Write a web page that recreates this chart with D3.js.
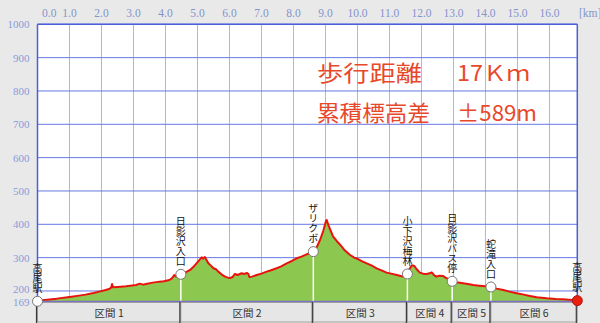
<!DOCTYPE html>
<html><head><meta charset="utf-8">
<script src="https://cdn.jsdelivr.net/npm/d3@7/dist/d3.min.js"></script>
<style>
html,body{margin:0;padding:0;background:#e9e9e9;}
svg{display:block;}
</style></head>
<body>
<svg id="c" width="600" height="323"></svg>
<script>
// ---- data ----
const distKm = [0,0.15,0.30,0.60,1.00,1.30,1.50,1.75,1.93,2.10,2.24,2.30,2.33,2.36,2.50,2.77,2.90,3.08,3.20,3.30,3.39,3.60,3.81,3.95,4.12,4.20,4.28,4.33,4.40,4.48,4.60,4.77,4.90,4.97,5.05,5.13,5.18,5.23,5.30,5.34,5.42,5.50,5.58,5.65,5.75,5.86,5.95,6.02,6.10,6.17,6.25,6.38,6.45,6.55,6.59,6.62,6.70,6.85,7.00,7.16,7.30,7.47,7.60,7.79,7.95,8.10,8.25,8.41,8.55,8.62,8.72,8.83,8.93,9.02,9.04,9.10,9.24,9.35,9.51,9.60,9.77,9.90,10.03,10.15,10.29,10.45,10.60,10.75,10.91,11.05,11.23,11.35,11.43,11.50,11.56,11.62,11.70,11.78,11.85,11.95,12.05,12.16,12.25,12.32,12.40,12.47,12.55,12.68,12.75,12.89,12.96,13.10,13.30,13.45,13.62,13.80,14.00,14.17,14.35,14.56,14.75,14.98,15.20,15.39,15.60,15.91,16.20,16.43,16.60,16.74,16.87];
const elevM  = [169,172,174,177,182,186,189,194,198,202,206,210,221,211,212,214,216,218,222,219,221,225,228,229,233,238,248,243,246,250,254,263,275,283,292,301,297,302,290,283,276,268,265,258,250,243,240,239,242,251,248,253,251,254,251,242,243,248,252,258,262,268,273,283,290,298,303,310,314,318,330,353,380,411,413,395,363,350,333,322,308,300,295,289,283,276,268,262,255,252,248,245,243,246,251,265,277,275,265,255,252,251,253,256,247,243,246,245,240,233,229,226,223,221,218,216,214,212,207,203,198,193,189,185,181,178,176,175,174,173,171];

const markerNames = ["高尾駅","日影沢入口","ザリクボ","小下沢梅林","日影沢バス停","蛇滝入口","高尾駅"];
const markerKm    = [0, 4.48, 8.62, 11.56, 12.96, 14.17, 16.87];
const markerElev  = [169, 250, 318, 251, 229, 212, 171];

const sectionNames = ["区間 1","区間 2","区間 3","区間 4","区間 5","区間 6"];
const sectionBounds = [0, 4.48, 8.62, 11.56, 12.96, 14.17, 16.87];

const xTicks = [0,1,2,3,4,5,6,7,8,9,10,11,12,13,14,15,16];
const xTickLabels = ["0.0","1.0","2.0","3.0","4.0","5.0","6.0","7.0","8.0","9.0","10.0","11.0","12.0","13.0","14.0","15.0","16.0"];
const yTicks = [200,300,400,500,600,700,800,900,1000];
const yMin = 169, yMax = 1000, xMax = 16.87;

const info1 = ["歩行距離","17Ｋｍ"];
const info2 = ["累積標高差","±589m"];

// ---- layout ----
const L = 37.5, R = 577.3, T = 24.3, B = 301.3;
const svg = d3.select("#c");
const x = d3.scaleLinear().domain([0, xMax]).range([L, R]);
const y = d3.scaleLinear().domain([yMin, yMax]).range([B, T]);

svg.append("rect").attr("x",0).attr("y",0).attr("width",600).attr("height",323).attr("fill","#e9e9e9");
svg.append("rect").attr("x",L).attr("y",T).attr("width",R-L).attr("height",B-T).attr("fill","#ffffff");

// vertical grid
svg.append("g").selectAll("line").data(xTicks.slice(1)).join("line")
  .attr("x1",d=>x(d)).attr("x2",d=>x(d)).attr("y1",T).attr("y2",B)
  .attr("stroke","#aab4ee").attr("stroke-width",1);
// horizontal grid
svg.append("g").selectAll("line").data(yTicks).join("line")
  .attr("x1",L).attr("x2",R).attr("y1",d=>y(d)).attr("y2",d=>y(d))
  .attr("stroke","#6678e4").attr("stroke-width",1);

// top axis labels
svg.append("g").selectAll("text").data(xTicks).join("text")
  .attr("x",(d,i)=> i===0 ? x(d)+4.5 : x(d))
  .attr("y",17)
  .attr("text-anchor",(d,i)=> i===0 ? "start" : "middle")
  .attr("font-family","Liberation Serif, serif").attr("font-size",11.5)
  .attr("fill","#8494cc")
  .text((d,i)=>xTickLabels[i]);
svg.append("text").attr("x",579).attr("y",17).attr("font-family","Liberation Serif, serif")
  .attr("font-size",11.5).attr("fill","#8494cc").text("[km]");

// left axis labels
svg.append("g").selectAll("text").data(yTicks.concat([yMin])).join("text")
  .attr("x",29.5).attr("y",d=> d===200 ? y(d)+2.5 : (d===yMin ? y(d)+5 : y(d)+4))
  .attr("text-anchor","end")
  .attr("font-family","Liberation Serif, serif").attr("font-size",11)
  .attr("fill","#8a9ad8")
  .text(d=>d);

// profile
const pts = distKm.map((d,i)=>[d, elevM[i]]);
svg.append("path").datum(pts)
  .attr("d", d3.area().x(d=>x(d[0])).y0(B).y1(d=>y(d[1])))
  .attr("fill","#8cc850");

// marker drop lines
svg.append("g").selectAll("line").data(markerKm.slice(1,-1)).join("line")
  .attr("x1",d=>x(d)).attr("x2",d=>x(d))
  .attr("y1",(d,i)=>y(markerElev[i+1])).attr("y2",B)
  .attr("stroke","#ffffff").attr("stroke-width",1.5);

svg.append("path").datum(pts)
  .attr("d", d3.line().x(d=>x(d[0])).y(d=>y(d[1])))
  .attr("fill","none").attr("stroke","#e8140c").attr("stroke-width",2).attr("stroke-linejoin","round");

// plot border
svg.append("line").attr("x1",L).attr("x2",R).attr("y1",T).attr("y2",T).attr("stroke","#4a5fd8").attr("stroke-width",1.5);
svg.append("line").attr("x1",R).attr("x2",R).attr("y1",T).attr("y2",B).attr("stroke","#4a5fd8").attr("stroke-width",1.5);
svg.append("line").attr("x1",L).attr("x2",L).attr("y1",T).attr("y2",B).attr("stroke","#4a5fd8").attr("stroke-width",1.5);
svg.append("line").attr("x1",L).attr("x2",R).attr("y1",B).attr("y2",B).attr("stroke","#7b6fc8").attr("stroke-width",1.2);

// section bar
const sec = svg.append("g");
sectionNames.forEach((n,i)=>{
  const x0 = x(sectionBounds[i]), x1 = x(sectionBounds[i+1]);
  sec.append("rect").attr("x",x0).attr("y",302.5).attr("width",x1-x0).attr("height",19.5)
    .attr("fill","#e6e6e6").attr("stroke","#a0a0a0").attr("stroke-width",1);
  sec.append("text").attr("x",(x0+x1)/2).attr("y",316.5).attr("text-anchor","middle")
    .attr("font-family","Noto Sans CJK JP, sans-serif").attr("font-size",10.5).attr("fill","#333")
    .text(n);
});
sec.selectAll("line.div").data(sectionBounds).join("line")
  .attr("x1",d=>x(d)-1).attr("x2",d=>x(d)-1).attr("y1",302).attr("y2",323)
  .attr("stroke","#3a3a3a").attr("stroke-width",1.2);

// markers
markerKm.forEach((k,i)=>{
  const cx = x(k), cy = y(markerElev[i]);
  const last = i===markerKm.length-1;
  svg.append("circle").attr("cx",cx).attr("cy",cy).attr("r",5)
    .attr("fill", last ? "#e82010" : "#ffffff").attr("stroke", last ? "#b01010" : "#777").attr("stroke-width",1);
  svg.append("text")
    .attr("x",cx).attr("y",cy - 8)
    .attr("text-anchor","end")
    .attr("style","writing-mode: vertical-rl; text-orientation: upright;")
    .attr("font-family","Noto Sans CJK JP, sans-serif").attr("font-size",10).attr("fill","#111")
    .text(markerNames[i]);
});

// info text
const infoStyle = s => s.attr("font-family","Noto Sans CJK JP, sans-serif").attr("font-size",22).attr("fill","#e8482a");
infoStyle(svg.append("text").attr("x",317).attr("y",81).attr("textLength",105).attr("lengthAdjust","spacingAndGlyphs").text(info1[0]));
infoStyle(svg.append("text").attr("x",457).attr("y",81).attr("textLength",73).attr("lengthAdjust","spacingAndGlyphs").text(info1[1]));
infoStyle(svg.append("text").attr("x",317).attr("y",121).attr("textLength",113).attr("lengthAdjust","spacingAndGlyphs").text(info2[0]));
infoStyle(svg.append("text").attr("x",457).attr("y",121).attr("textLength",80).attr("lengthAdjust","spacingAndGlyphs").text(info2[1]));
</script>
</body></html>
